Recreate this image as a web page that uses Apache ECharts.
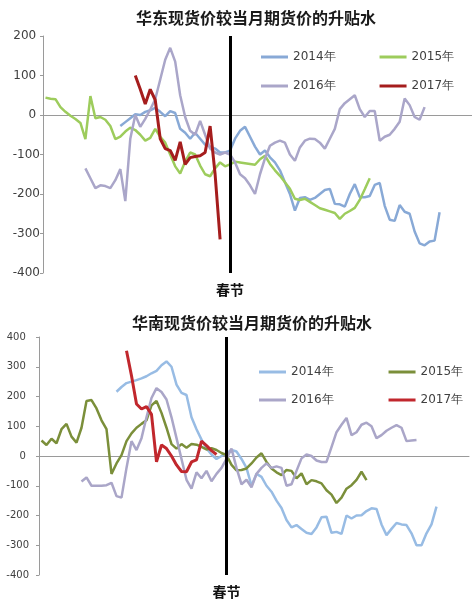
<!DOCTYPE html>
<html>
<head>
<meta charset="utf-8">
<script src="https://cdn.jsdelivr.net/npm/echarts@6/dist/echarts.min.js"></script>
<style>
html,body{margin:0;padding:0;background:#fff;}
#c1{position:absolute;left:0;top:0;width:472px;height:300px;}
#c2{position:absolute;left:0;top:300px;width:472px;height:301px;}
</style>
</head>
<body>
<div id="c1"></div>
<div id="c2"></div>
<script>
// ---- data ----
const N = 86;               // number of trading-day slots
const springIndex = 37;     // 春节 position
const seriesNames = ['2014年', '2015年', '2016年', '2017年'];

// 华东 (East China)
const east2014Start = 15;
const east2014 = [-28,-18,-8,2,0,8,12,18,8,-3,10,5,-35,-45,-60,-45,-60,-75,-80,-85,-95,-95,-90,-60,-40,-30,-55,-80,-100,-90,-107,-120,-140,-170,-200,-242,-210,-208,-215,-210,-200,-190,-187,-225,-226,-232,-200,-175,-208,-208,-205,-177,-172,-230,-265,-268,-228,-245,-250,-295,-325,-330,-320,-318,-246];
const east2015Start = 0;
const east2015 = [44,41,40,20,8,-2,-10,-20,-61,48,-8,-5,-12,-28,-61,-55,-42,-32,-38,-50,-65,-58,-35,-55,-70,-100,-130,-148,-118,-95,-100,-128,-150,-155,-135,-120,-130,-125,-118,-120,-122,-124,-126,-112,-103,-124,-140,-154,-170,-187,-212,-215,-212,-220,-228,-236,-240,-244,-248,-263,-250,-243,-235,-215,-188,-160];
const east2016Start = 8;
const east2016 = [-135,-160,-185,-178,-180,-185,-165,-137,-218,-60,0,-30,-10,14,40,90,140,170,135,50,-5,-40,-50,-15,-50,-85,-95,-100,-95,-100,-120,-150,-160,-178,-200,-150,-110,-78,-70,-65,-70,-100,-116,-82,-65,-60,-61,-70,-85,-60,-35,15,30,40,50,15,-5,10,10,-65,-55,-50,-35,-17,42,25,-5,-12,20];
const east2017Start = 18;
const east2017 = [100,65,28,65,38,-60,-85,-90,-115,-68,-125,-108,-105,-103,-95,-28,-150,-315];

// 华南 (South China)
const south2014Start = 15;
const south2014 = [216,232,245,250,255,261,268,278,286,305,318,300,240,212,205,130,90,55,25,5,-10,0,10,20,15,-10,-40,-100,-60,-70,-100,-120,-150,-175,-215,-240,-232,-245,-258,-262,-240,-206,-204,-258,-255,-262,-200,-210,-200,-199,-185,-176,-178,-230,-266,-245,-225,-230,-232,-260,-300,-300,-260,-230,-170];
const south2015Start = 0;
const south2015 = [52,37,58,43,90,108,65,45,95,185,188,160,120,90,-60,-25,3,50,76,95,108,120,170,185,145,95,40,25,40,28,40,38,31,22,26,20,10,3,-30,-48,-47,-42,-25,-5,9,-20,-42,-55,-64,-47,-50,-75,-58,-95,-81,-85,-92,-115,-130,-158,-140,-110,-98,-80,-53,-81];
const south2016Start = 8;
const south2016 = [-86,-72,-100,-100,-100,-98,-90,-135,-140,-40,50,20,60,130,195,228,215,190,130,60,-10,-80,-110,-55,-75,-50,-85,-60,-40,-10,25,-40,-95,-80,-105,-60,-40,-25,-40,-35,-40,-100,-95,-50,-8,5,0,-15,-20,-20,30,80,105,128,70,80,105,112,100,60,70,85,95,104,95,50,52,54];
const south2017Start = 17;
const south2017 = [354,270,175,158,166,140,-20,37,25,0,-30,-52,-53,-20,-13,50,35,18,5];

// y-axis tick values
const eastTicks = {min: -400, max: 200, step: 100};
const southTicks = {min: -400, max: 400, step: 100};

// ---- helpers ----
const cats = Array.from({length: N}, (_, i) => i);
function pad(start, vals) {
  const a = new Array(N).fill(null);
  vals.forEach((v, k) => { a[start + k] = v; });
  return a;
}

function build(cfg) {
  const series = cfg.data.map((d, k) => {
    const s = {
      name: seriesNames[k],
      type: 'line',
      data: pad(d[0], d[1]),
      symbol: 'none',
      smooth: false,
      connectNulls: false,
      lineStyle: {color: cfg.colors[k], width: k === 3 ? 3 : 2.5},
      itemStyle: {color: cfg.colors[k]},
      emphasis: {disabled: true},
      z: 2 + k
    };
    if (k === 0) {
      s.markLine = {
        silent: true,
        symbol: 'none',
        animation: false,
        lineStyle: {color: '#000', width: 3, type: 'solid'},
        label: {show: true, position: 'start', formatter: '春节', color: '#111',
                fontSize: 14, fontWeight: 'bold', fontFamily: 'Noto Sans CJK SC', distance: 10},
        emphasis: {disabled: true},
        data: [{xAxis: springIndex}]
      };
    }
    return s;
  });
  const legendCommon = {
    icon: 'rect', itemWidth: 27, itemHeight: 3, itemGap: cfg.legendGap,
    textStyle: {fontSize: 12, color: '#404040', fontFamily: 'DejaVu Sans'},
    selectedMode: false
  };
  return {
    animation: false,
    title: {
      text: cfg.title, left: cfg.titleLeft, top: cfg.titleTop,
      textStyle: {fontSize: 16, fontWeight: 'bold', color: '#1a1a1a', fontFamily: 'Noto Sans CJK SC'}
    },
    legend: [
      Object.assign({data: [seriesNames[0], seriesNames[1]], left: cfg.legendLeft, top: cfg.legendTop1}, legendCommon),
      Object.assign({data: [seriesNames[2], seriesNames[3]], left: cfg.legendLeft, top: cfg.legendTop2}, legendCommon)
    ],
    grid: {left: cfg.gridLeft, top: cfg.gridTop, width: N * 5, bottom: cfg.gridBottom, containLabel: false},
    xAxis: {
      type: 'category', data: cats, boundaryGap: true,
      axisLine: {onZero: true, lineStyle: {color: '#9a9a9a', width: 1}},
      axisTick: {show: false}, axisLabel: {show: false}, splitLine: {show: false}
    },
    yAxis: {
      type: 'value', min: cfg.ticks.min, max: cfg.ticks.max, interval: cfg.ticks.step,
      axisLine: {show: true, onZero: false, lineStyle: {color: '#9a9a9a', width: 1}},
      axisTick: {show: true, length: 3, lineStyle: {color: '#9a9a9a'}},
      splitLine: {show: false},
      axisLabel: {
        fontSize: cfg.labelSize, color: '#404040', fontFamily: 'DejaVu Sans', margin: cfg.labelMargin,
        formatter: v => (v >= 0 ? v + ' ' : String(v))
      }
    },
    series: series
  };
}

const c1 = echarts.init(document.getElementById('c1'), null, {renderer: 'canvas'});
c1.setOption(build({
  title: '华东现货价较当月期货价的升贴水', titleLeft: 131, titleTop: 5,
  legendLeft: 256, legendGap: 44, legendTop1: 46, legendTop2: 75,
  gridLeft: 43, gridTop: 36, gridBottom: 27,
  ticks: eastTicks, labelSize: 12, labelMargin: 3,
  colors: ['#88a9d6', '#9dcc5c', '#aaa6c9', '#a51d1d'],
  data: [[east2014Start, east2014], [east2015Start, east2015], [east2016Start, east2016], [east2017Start, east2017]]
}));

const c2 = echarts.init(document.getElementById('c2'), null, {renderer: 'canvas'});
c2.setOption(build({
  title: '华南现货价较当月期货价的升贴水', titleLeft: 127, titleTop: 10,
  legendLeft: 254, legendGap: 55, legendTop1: 61, legendTop2: 89,
  gridLeft: 39, gridTop: 37, gridBottom: 26,
  ticks: southTicks, labelSize: 10, labelMargin: 10,
  colors: ['#98bce4', '#7b8f3a', '#aaa6c8', '#c1272d'],
  data: [[south2014Start, south2014], [south2015Start, south2015], [south2016Start, south2016], [south2017Start, south2017]]
}));
</script>
</body>
</html>
